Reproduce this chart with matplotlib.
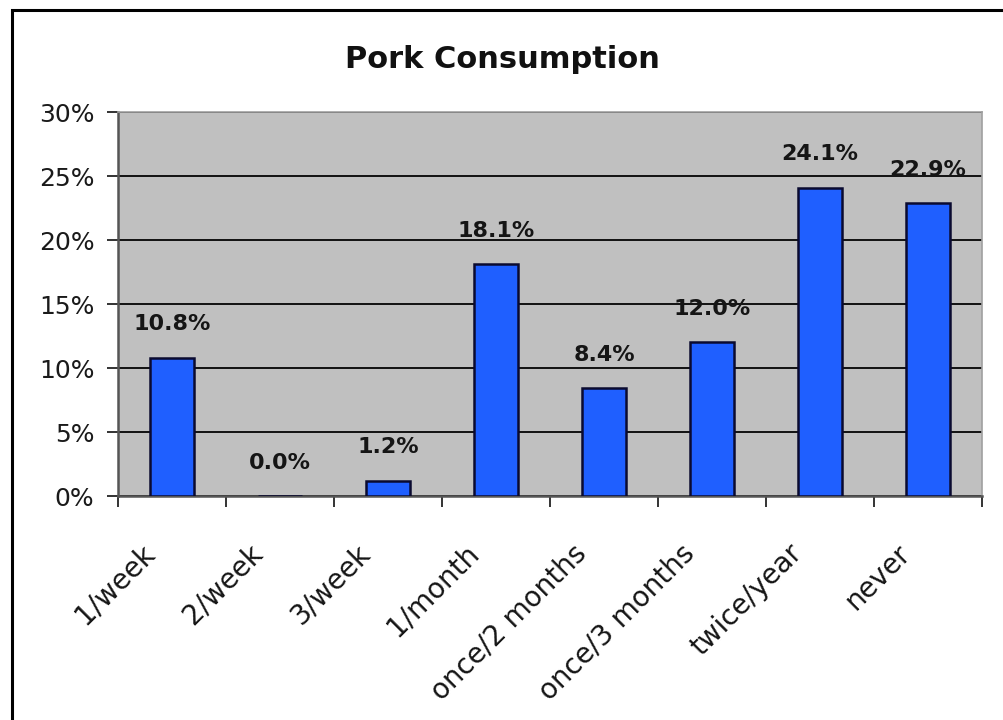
import matplotlib
matplotlib.use("Agg")
import matplotlib.pyplot as plt
from matplotlib.patches import Rectangle
from matplotlib.transforms import ScaledTranslation
from matplotlib.ticker import FixedLocator, FuncFormatter

categories = ["1/week", "2/week", "3/week", "1/month", "once/2 months",
              "once/3 months", "twice/year", "never"]
values = [10.8, 0.0, 1.2, 18.1, 8.4, 12.0, 24.1, 22.9]
y_ticks = [0, 5, 10, 15, 20, 25, 30]

plt.rcParams['font.family'] = ['DejaVu Sans']

fig = plt.figure(figsize=(10.04, 7.2), dpi=100)
fig.patch.set_facecolor('white')
ax = fig.add_axes([118 / 1004, 1 - 496 / 720, (982 - 118) / 1004, (496 - 112) / 720])
ax.set_facecolor('#c0c0c0')

x = list(range(len(categories)))
bars = ax.bar(x, values, width=0.41, color='#1f5fff', edgecolor='#0a0a30',
              linewidth=1.8, zorder=3)

for b, v in zip(bars, values):
    ax.annotate(f"{v:.1f}%", (b.get_x() + b.get_width() / 2, v),
                xytext=(0, 24), textcoords='offset points', ha='center', va='center',
                fontsize=16, fontweight='bold', color='#151515', zorder=4)

ax.set_xlim(-0.5, len(categories) - 0.5)
ax.set_ylim(0, 30)
ax.set_yticks(y_ticks)
ax.yaxis.set_major_formatter(FuncFormatter(lambda v, p: f"{v:.0f}%"))
ax.grid(axis='y', color='#111111', linewidth=1.4, zorder=1)
ax.set_axisbelow(True)

# ticks sit on the category boundaries, labels are placed under the centres
ax.xaxis.set_major_locator(FixedLocator([i - 0.5 for i in range(len(categories) + 1)]))
ax.xaxis.set_major_formatter(FuncFormatter(lambda v, p: ""))
ax.tick_params(axis='x', which='major', length=8, width=1.4, color='#333333', direction='out')
ax.tick_params(axis='y', length=8, width=1.4, color='#333333', labelsize=18,
               labelcolor='#1a1a1a', pad=9)

label_shift = ScaledTranslation(-0.32, -0.43, fig.dpi_scale_trans)
for xi, cat in zip(x, categories):
    ax.text(xi, 0, cat, transform=ax.get_xaxis_transform() + label_shift,
            rotation=45, rotation_mode='anchor', ha='right', va='top',
            fontsize=20, color='#151515')

for side in ['left', 'bottom']:
    ax.spines[side].set_color('#555555')
    ax.spines[side].set_linewidth(1.8)
for side in ['top', 'right']:
    ax.spines[side].set_color('#a0a0a0')
    ax.spines[side].set_linewidth(1.2)

fig.text(0.5, 1 - 68 / 720, "Pork Consumption", ha='center', va='baseline',
         fontsize=22, fontweight='bold', color='#111111')

fig.patches.append(Rectangle((12 / 1004, -0.1), 1.1, 0.1 + (1 - 10 / 720),
                             transform=fig.transFigure, fill=False,
                             edgecolor='black', linewidth=2.2))

fig.savefig("out.png", dpi=100)
